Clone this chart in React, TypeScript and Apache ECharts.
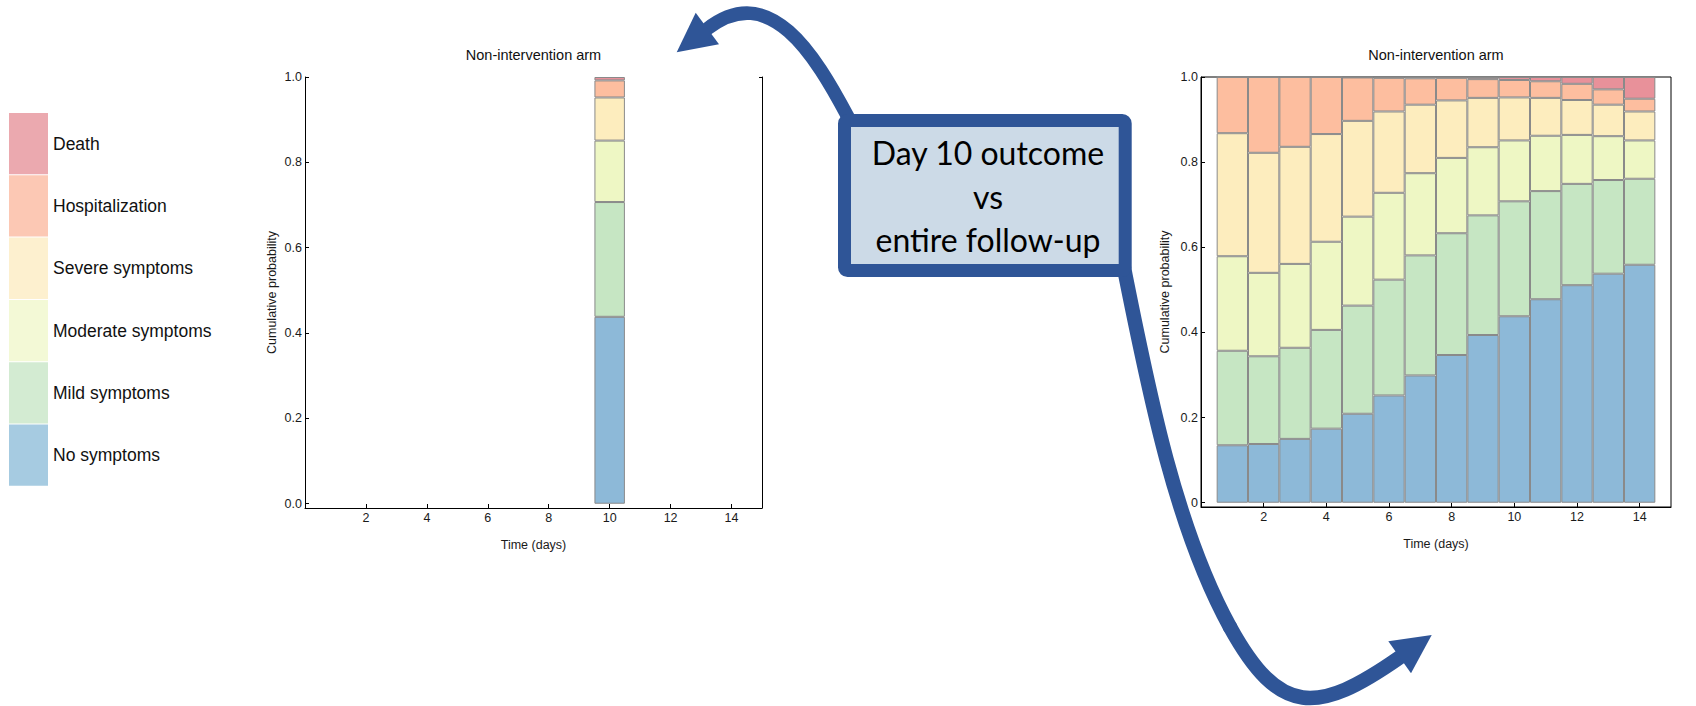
import React, { useEffect, useRef } from 'react';
import * as echarts from 'echarts';

// ---------- data ----------
const categories = ['No symptoms', 'Mild symptoms', 'Moderate symptoms', 'Severe symptoms', 'Hospitalization', 'Death'];
const legendOrder = ['Death', 'Hospitalization', 'Severe symptoms', 'Moderate symptoms', 'Mild symptoms', 'No symptoms'];
const barColors = ['#8DB9D8', '#C6E6C3', '#EEF7C4', '#FDEDBE', '#FDBE9F', '#E8919A'];
const legendColors = ['#A6CBE1', '#D3EBD2', '#F3F9D6', '#FDF0CF', '#FCC8B4', '#EBA9AF'];

const chartTitle = 'Non-intervention arm';
const xName = 'Time (days)';
const yName = 'Cumulative probability';
const boxLines = ['Day 10 outcome', 'vs', 'entire follow-up'];

// x axis positions 0..15 (tick labels shown at 2, 4, ..., 14)
const timeTicks = ['0', '1', '2', '3', '4', '5', '6', '7', '8', '9', '10', '11', '12', '13', '14', '15'];

// entire follow-up (right chart): probability of each state per day
const days = [1, 2, 3, 4, 5, 6, 7, 8, 9, 10, 11, 12, 13, 14];
const noSymptoms = [0.135, 0.138, 0.150, 0.174, 0.209, 0.252, 0.299, 0.347, 0.394, 0.438, 0.478, 0.511, 0.538, 0.559];
const mildSymptoms = [0.222, 0.206, 0.214, 0.232, 0.254, 0.272, 0.282, 0.286, 0.281, 0.270, 0.254, 0.238, 0.220, 0.202];
const moderateSymptoms = [0.222, 0.196, 0.197, 0.207, 0.209, 0.204, 0.193, 0.177, 0.160, 0.143, 0.130, 0.115, 0.103, 0.090];
const severeSymptoms = [0.289, 0.282, 0.275, 0.253, 0.225, 0.191, 0.161, 0.135, 0.116, 0.101, 0.089, 0.082, 0.074, 0.068];
const hospitalization = [0.132, 0.178, 0.164, 0.134, 0.102, 0.079, 0.062, 0.053, 0.044, 0.041, 0.039, 0.038, 0.036, 0.030];
const death = [0.000, 0.000, 0.000, 0.000, 0.001, 0.002, 0.003, 0.002, 0.005, 0.007, 0.010, 0.016, 0.029, 0.051];

// day 10 outcome (left chart)
const outcomeDay = [10];
const outcomeValues = [[0.438], [0.269], [0.144], [0.101], [0.040], [0.008]];

const followUpValues = [noSymptoms, mildSymptoms, moderateSymptoms, severeSymptoms, hospitalization, death];

// ---------- layout ----------
const LEFT_GRID = { left: 305, top: 77, width: 457, height: 431 };
const RIGHT_GRID = { left: 1201, top: 77, width: 470, height: 430 };
const Y_MIN = -0.01;
const Y_MAX = 1;
const ARROW = '#2F5597';
const FONT = 'Liberation Sans, Arial, sans-serif';

const axisLineStyle = { show: true, onZero: false, lineStyle: { color: '#000', width: 1 } };
const showEvenTick = (i: number) => i > 0 && i < timeTicks.length - 1 && i % 2 === 0;

function xAxisFor(gridIndex: number) {
  return {
    type: 'category', gridIndex, data: timeTicks, boundaryGap: false,
    name: xName, nameLocation: 'middle', nameGap: 30,
    nameTextStyle: { fontSize: 12.5, color: '#1a1a1a', fontFamily: FONT },
    axisLine: axisLineStyle,
    axisTick: { show: true, inside: true, length: 4, interval: showEvenTick, lineStyle: { color: '#000', width: 1 } },
    axisLabel: { fontSize: 12.5, color: '#1a1a1a', margin: 3, fontFamily: FONT, interval: showEvenTick },
    splitLine: { show: false },
  };
}

function yAxisFor(gridIndex: number, zeroLabel: string, gap: number) {
  return {
    type: 'value', gridIndex, min: Y_MIN, max: Y_MAX, splitNumber: 5,
    name: yName, nameLocation: 'middle', nameGap: gap,
    nameTextStyle: { fontSize: 12.5, color: '#1a1a1a', fontFamily: FONT },
    axisLine: axisLineStyle,
    axisTick: { show: true, inside: true, length: 4, lineStyle: { color: '#000', width: 1 } },
    axisLabel: {
      fontSize: 12.5, color: '#1a1a1a', margin: 3, showMinLabel: false, fontFamily: FONT,
      formatter: (v: number) => (v < 0 ? '' : v === 0 ? zeroLabel : v.toFixed(1)),
    },
    splitLine: { show: false },
  };
}

function barSeries(stack: string, xi: number, yi: number, xs: number[], values: number[][], width: number) {
  return categories.map((name, i) => ({
    type: 'bar', name, stack, xAxisIndex: xi, yAxisIndex: yi,
    barWidth: width,
    silent: true,
    data: xs.map((d, j) => [d, values[i][j]]),
    itemStyle: { color: barColors[i], borderColor: '#8a8a8a', borderWidth: 1 },
  }));
}

export default function App() {
  const ref = useRef<HTMLDivElement>(null);
  useEffect(() => {
    document.body.style.margin = '0';
    const chart = echarts.init(ref.current!, null, { renderer: 'svg' });
    const span = timeTicks.length - 1;
    const leftUnit = LEFT_GRID.width / span;
    const rightUnit = RIGHT_GRID.width / span;
    const option: any = {
      animation: false,
      backgroundColor: '#fff',
      textStyle: { fontFamily: FONT },
      legend: {
        orient: 'vertical', left: 9, top: 113, padding: 0,
        itemWidth: 39, itemHeight: 61.3, itemGap: 1,
        icon: 'rect', selectedMode: false,
        textStyle: { fontSize: 17.5, color: '#111', fontFamily: FONT },
        data: legendOrder.map((n) => ({
          name: n,
          itemStyle: { color: legendColors[categories.indexOf(n)], borderWidth: 0 },
        })),
      },
      grid: [
        { ...LEFT_GRID, show: false },
        { ...RIGHT_GRID, show: true, borderColor: '#000', borderWidth: 1, backgroundColor: 'transparent' },
      ],
      xAxis: [xAxisFor(0), xAxisFor(1)],
      yAxis: [
        yAxisFor(0, '0.0', 27),
        {
          type: 'value', gridIndex: 0, position: 'right', min: Y_MIN, max: Y_MAX,
          axisLine: axisLineStyle,
          axisTick: { show: true, inside: true, length: 3, customValues: [1], lineStyle: { color: '#000' } },
          axisLabel: { show: false }, splitLine: { show: false },
        },
        yAxisFor(1, '0', 30),
      ],
      series: [
        ...barSeries('day10', 0, 0, outcomeDay, outcomeValues, leftUnit),
        ...barSeries('followup', 1, 2, days, followUpValues, rightUnit),
      ],
      graphic: [
        {
          type: 'text', x: LEFT_GRID.left + LEFT_GRID.width / 2, y: 55, z: 20,
          style: { text: chartTitle, align: 'center', verticalAlign: 'middle', fontSize: 14.5, fill: '#111', fontFamily: FONT },
        },
        {
          type: 'text', x: RIGHT_GRID.left + RIGHT_GRID.width / 2, y: 55, z: 20,
          style: { text: chartTitle, align: 'center', verticalAlign: 'middle', fontSize: 14.5, fill: '#111', fontFamily: FONT },
        },
        // upper arrow
        {
          type: 'bezierCurve', z: 10,
          shape: { x1: 848, y1: 117, cpx1: 815, cpy1: 55, cpx2: 770, cpy2: -20, x2: 707, y2: 29 },
          style: { stroke: ARROW, lineWidth: 13.5, fill: null, lineCap: 'round' },
        },
        {
          type: 'polygon', z: 10,
          shape: { points: [[695.7, 12.7], [676.7, 52.3], [719, 44.3]] },
          style: { fill: ARROW },
        },
        // lower arrow
        {
          type: 'bezierCurve', z: 10,
          shape: { x1: 1124, y1: 268, cpx1: 1148, cpy1: 388, cpx2: 1175, cpy2: 527, x2: 1230, y2: 627 },
          style: { stroke: ARROW, lineWidth: 14.5, fill: null, lineCap: 'round' },
        },
        {
          type: 'bezierCurve', z: 10,
          shape: { x1: 1230, y1: 627, cpx1: 1279.5, cpy1: 717, cpx2: 1317.5, cpy2: 714.8, x2: 1399.5, y2: 657.5 },
          style: { stroke: ARROW, lineWidth: 14.5, fill: null, lineCap: 'round' },
        },
        {
          type: 'polygon', z: 10,
          shape: { points: [[1388.3, 641.3], [1431.7, 635], [1411, 673.3]] },
          style: { fill: ARROW },
        },
        // text box
        {
          type: 'rect', z: 11,
          shape: { x: 844.5, y: 120.5, width: 280.7, height: 150, r: 3 },
          style: { fill: '#CCDAE7', stroke: ARROW, lineWidth: 13 },
        },
        {
          type: 'text', z: 12, x: 988, y: 196,
          style: {
            text: boxLines.join('\n'), align: 'center', verticalAlign: 'middle',
            fontSize: 32, lineHeight: 43.5, fill: '#000', fontFamily: 'Lato, "Open Sans", sans-serif',
          },
        },
      ],
    };
    chart.setOption(option);
    return () => chart.dispose();
  }, []);
  return <div ref={ref} style={{ position: 'fixed', left: 0, top: 0, width: 1696, height: 706, background: '#fff' }} />;
}
